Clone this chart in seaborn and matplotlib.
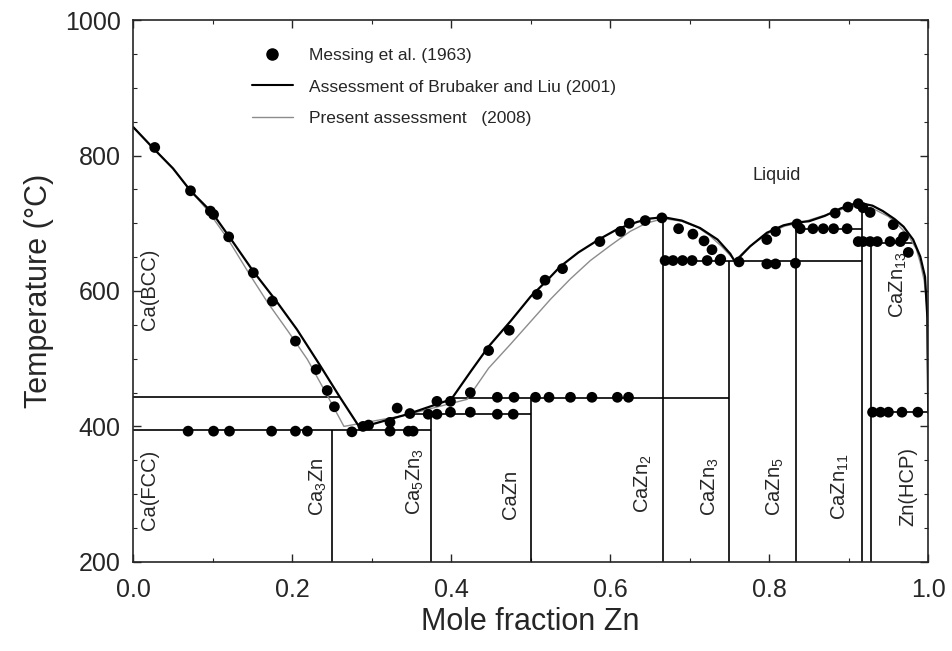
import matplotlib
matplotlib.use('Agg')
import matplotlib.pyplot as plt
import seaborn as sns
import numpy as np
from matplotlib.lines import Line2D
from matplotlib.legend_handler import HandlerLine2D
from matplotlib.ticker import MultipleLocator, FormatStrFormatter

sns.set_style('ticks')
plt.rcParams['font.family'] = ['Liberation Sans', 'DejaVu Sans']
plt.rcParams['mathtext.fontset'] = 'custom'
plt.rcParams['mathtext.rm'] = 'Liberation Sans'
plt.rcParams['mathtext.it'] = 'Liberation Sans:italic'

# Messing et al. (1963) experimental points
msg_x = [0.027, 0.072, 0.097, 0.101, 0.12, 0.151, 0.175, 0.204, 0.23, 0.244, 0.253,
         0.069, 0.101, 0.121, 0.174, 0.204, 0.219,
         0.275, 0.289, 0.296, 0.323, 0.323, 0.332, 0.346, 0.352, 0.348, 0.371,
         0.382, 0.382, 0.399, 0.399, 0.424, 0.424,
         0.458, 0.479, 0.506, 0.523, 0.550, 0.577, 0.609, 0.623, 0.458, 0.478,
         0.447, 0.473, 0.508, 0.518, 0.540, 0.587, 0.613, 0.624, 0.644, 0.665,
         0.686, 0.704, 0.718, 0.728, 0.739,
         0.669, 0.679, 0.691, 0.703, 0.722, 0.738, 0.762, 0.797, 0.808, 0.833,
         0.797, 0.808, 0.835,
         0.839, 0.855, 0.868, 0.881, 0.898,
         0.883, 0.899, 0.912, 0.918, 0.927, 0.956, 0.969, 0.975,
         0.912, 0.918, 0.927, 0.936, 0.952, 0.965,
         0.93, 0.94, 0.95, 0.967, 0.987]
msg_t = [812, 748, 718, 713, 680, 627, 585, 526, 484, 453, 429,
         393, 393, 393, 393, 393, 393,
         392, 400, 402, 393, 406, 427, 393, 393, 419, 418,
         437, 418, 437, 421, 421, 450,
         443, 443, 443, 443, 443, 443, 443, 443, 418, 418,
         512, 542, 595, 616, 633, 673, 688, 700, 704, 708,
         692, 684, 674, 661, 647,
         645, 645, 645, 645, 645, 645, 643, 640, 640, 641,
         676, 688, 699,
         692, 692, 692, 692, 692,
         715, 724, 729, 723, 716, 698, 680, 657,
         673, 673, 673, 673, 673, 673,
         421, 421, 421, 421, 421]

# liquidus, Brubaker and Liu (2001)
bl_x = [0.0, 0.025, 0.05, 0.072, 0.099, 0.125, 0.151, 0.18, 0.206, 0.235, 0.26, 0.285,
        0.345, 0.40, 0.425, 0.447, 0.475, 0.50, 0.52, 0.537, 0.56, 0.587, 0.61, 0.634,
        0.65, 0.667, 0.69, 0.713, 0.735, 0.751, 0.757, 0.776, 0.797, 0.818, 0.833,
        0.85, 0.87, 0.89, 0.905, 0.914, 0.93, 0.943, 0.958, 0.969, 0.981, 0.99, 0.996,
        0.999, 1.0]
bl_t = [842, 811, 781, 748, 716, 673, 629, 585, 543, 490, 443, 398,
        418, 440, 482, 518, 556, 592, 615, 636, 657, 677, 692, 702,
        707, 709, 704, 693, 676, 655, 643, 666, 686, 697, 701,
        703, 711, 722, 728, 730, 726, 718, 706, 695, 676, 651, 621,
        560, 420]

# liquidus, present assessment (2008)
pa_x = [0.0, 0.025, 0.05, 0.072, 0.093, 0.12, 0.145, 0.169, 0.195, 0.219, 0.243, 0.265,
        0.34, 0.42, 0.447, 0.475, 0.50, 0.525, 0.55, 0.575, 0.60, 0.625, 0.645, 0.667,
        0.69, 0.71, 0.725, 0.74, 0.757, 0.77, 0.78, 0.80, 0.82, 0.84, 0.87, 0.89,
        0.91, 0.93, 0.95, 0.965, 0.975, 0.985, 0.99, 0.995, 0.998, 1.0]
pa_t = [842, 811, 781, 748, 720, 675, 627, 583, 540, 499, 448, 400,
        416, 440, 486, 522, 555, 588, 618, 645, 667, 688, 700, 707,
        703, 694, 682, 666, 645, 660, 670, 686, 696, 701, 712, 720,
        726, 722, 710, 694, 682, 662, 642, 615, 580, 420]

# invariant reactions (x start, x end, temperature)
inv_x0 = [0.0, 0.0, 0.345, 0.40, 0.667, 0.833, 0.917, 0.929]
inv_x1 = [0.26, 0.375, 0.50, 0.75, 0.917, 0.917, 0.981, 1.0]
inv_t = [443, 395, 418, 442, 644, 692, 671, 421]

# compounds (composition, upper temperature of the line)
cmp_x = [0.25, 0.375, 0.5, 2 / 3, 0.75, 5 / 6, 11 / 12, 13 / 14]
cmp_t = [395, 418, 442, 709, 644, 701, 730, 671]

# phase labels
lab_text = ['Ca(BCC)', 'Ca(FCC)', r'Ca$_3$Zn', r'Ca$_5$Zn$_3$', 'CaZn', r'CaZn$_2$',
            r'CaZn$_3$', r'CaZn$_5$', r'CaZn$_{11}$', r'CaZn$_{13}$', 'Zn(HCP)']
lab_x = [0.021, 0.021, 0.233, 0.355, 0.474, 0.642, 0.726, 0.808, 0.889, 0.962, 0.974]
lab_t = [602, 306, 311, 318, 300, 315, 311, 311, 311, 609, 311]


class RightMarker(HandlerLine2D):
    def get_xdata(self, legend, xdescent, ydescent, width, height, fontsize):
        xd, xm = super().get_xdata(legend, xdescent, ydescent, width, height, fontsize)
        return xd, [-xdescent + 0.95 * width]


fig, ax = plt.subplots(figsize=(9.52, 6.51), dpi=100)
fig.subplots_adjust(left=0.14, right=0.975, bottom=0.137, top=0.969)

ax.hlines(inv_t, inv_x0, inv_x1, color='black', lw=1.2)
ax.vlines(cmp_x, 200, cmp_t, color='black', lw=1.2)

sns.lineplot(x=pa_x, y=pa_t, sort=False, estimator=None, color='0.55', lw=1.0, ax=ax)
sns.lineplot(x=bl_x, y=bl_t, sort=False, estimator=None, color='black', lw=1.6, ax=ax)
sns.scatterplot(x=msg_x, y=msg_t, s=60, color='black', edgecolor='none', zorder=5, ax=ax)

for t, x, y in zip(lab_text, lab_x, lab_t):
    ax.text(x, y, t, rotation=90, ha='center', va='center', fontsize=14.5)
ax.text(0.809, 770, 'Liquid', ha='center', va='center', fontsize=13)

ax.set_xlim(0, 1)
ax.set_ylim(200, 1000)
ax.xaxis.set_major_locator(MultipleLocator(0.2))
ax.xaxis.set_minor_locator(MultipleLocator(0.1))
ax.yaxis.set_major_locator(MultipleLocator(200))
ax.yaxis.set_minor_locator(MultipleLocator(50))
ax.xaxis.set_major_formatter(FormatStrFormatter('%.1f'))
ax.tick_params(which='both', direction='in', top=True, right=True, labelsize=18)
ax.tick_params(which='major', length=6, width=1.0)
ax.tick_params(which='minor', length=3, width=0.8)
ax.tick_params(axis='x', pad=12)
ax.tick_params(axis='y', pad=9)
for s in ax.spines.values():
    s.set_linewidth(1.2)

ax.set_xlabel('Mole fraction Zn', fontsize=22, labelpad=3)
ax.set_ylabel('Temperature (°C)', fontsize=22, labelpad=8)

handles = [Line2D([], [], ls='none', marker='o', color='black', ms=8),
           Line2D([], [], color='black', lw=1.5),
           Line2D([], [], color='0.55', lw=1.0)]
labels = ['Messing et al. (1963)', 'Assessment of Brubaker and Liu (2001)',
          'Present assessment   (2008)']
ax.legend(handles, labels, loc='upper left', bbox_to_anchor=(0.14, 0.962),
          frameon=False, fontsize=12.5, handlelength=2.4, handletextpad=0.9,
          labelspacing=0.95, borderaxespad=0, numpoints=1,
          handler_map={handles[0]: RightMarker()})

fig.savefig('out.png', dpi=100)
